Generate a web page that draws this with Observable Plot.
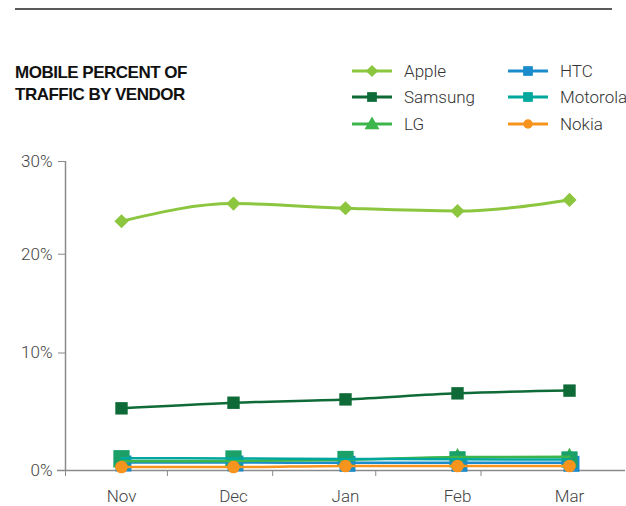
<!DOCTYPE html>
<html>
<head>
<meta charset="utf-8">
<script src="https://cdn.jsdelivr.net/npm/d3@7"></script>
<script src="https://cdn.jsdelivr.net/npm/@observablehq/plot@0.6"></script>
<style>
  html, body { margin: 0; padding: 0; background: #fff; width: 626px; height: 506px; overflow: hidden; }
  #header { position: relative; width: 626px; height: 150px; }
  #rule { position: absolute; left: 15px; top: 8px; width: 597px; height: 2px; background: #5a5a5a; }
  #title { position: absolute; left: 15px; top: 62px; font-family: "Liberation Sans", Arial, sans-serif; font-weight: bold; font-size: 17px; line-height: 22px; color: #111; letter-spacing: -0.5px; }
  .lg { position: absolute; height: 20px; display: flex; align-items: center; font-family: Roboto, "Liberation Sans", sans-serif; font-weight: 300; font-size: 17px; color: #333; white-space: nowrap; }
  .lg svg { margin-right: 12px; }
  #chart { position: absolute; left: 0; top: 150px; }
  #chart svg text { font-family: Roboto, "Liberation Sans", sans-serif; font-weight: 300; }
</style>
</head>
<body>
<div id="header">
  <div id="rule"></div>
  <div id="title">MOBILE PERCENT OF<br>TRAFFIC BY VENDOR</div>
</div>
<div id="chart"></div>
<script>
const months = ["Nov", "Dec", "Jan", "Feb", "Mar"];
const vendors = ["Apple", "Samsung", "LG", "HTC", "Motorola", "Nokia"];
const colors = ["#8cc63f", "#0e6b38", "#3cb54a", "#1a8ccb", "#00a79d", "#f7941d"];
const symbols = ["diamond2", "square", "triangle", "square", "square", "circle"];

const apple    = [23.5, 25.4, 24.9, 24.6, 25.8];
const samsung  = [4.85, 5.35, 5.65, 6.2, 6.45];
const lg       = [0.55, 0.57, 0.65, 0.85, 0.87];
const htc      = [0.47, 0.47, 0.45, 0.45, 0.45];
const motorola = [0.77, 0.75, 0.72, 0.69, 0.68];
const nokia    = [0.18, 0.18, 0.25, 0.25, 0.25];

const yTicks = [0, 10, 20, 30];
const xTicks = [-0.5, 0.41, 1.35, 2.27, 3.21];

const seriesValues = [apple, samsung, lg, htc, motorola, nokia];
const rows = vendors.flatMap((v, s) => seriesValues[s].map((val, i) => ({vendor: v, i, month: months[i], value: val})));
const of = v => rows.filter(d => d.vendor === v);

// Legend (HTML, above the SVG)
const header = document.getElementById("header");
const symType = {diamond2: d3.symbolDiamond2, square: d3.symbolSquare, triangle: d3.symbolTriangle, circle: d3.symbolCircle};
const legendPos = [[352, 61], [352, 87], [352, 114], [508, 61], [508, 87], [508, 114]];
vendors.forEach((v, k) => {
  const div = document.createElement("div");
  div.className = "lg";
  div.style.left = legendPos[k][0] + "px";
  div.style.top = legendPos[k][1] + "px";
  const path = d3.symbol(symType[symbols[k]], symbols[k] === "circle" ? 70 : 95)();
  div.innerHTML = `<svg width="40" height="20" viewBox="0 0 40 20"><line x1="0" x2="40" y1="10" y2="10" stroke="${colors[k]}" stroke-width="3"/><path d="${path}" transform="translate(20,${symbols[k]==='triangle'?11:10})" fill="${colors[k]}"/></svg><span>${v}</span>`;
  header.appendChild(div);
});

const col = v => colors[vendors.indexOf(v)];
const lineOpts = (v, w) => ({x: "i", y: "value", stroke: col(v), strokeWidth: w, curve: "monotone-x"});

const chart = Plot.plot({
  width: 626,
  height: 356,
  marginTop: 11,
  marginBottom: 36,
  marginLeft: 65,
  marginRight: 1,
  style: {fontSize: "17px", color: "#444", overflow: "visible"},
  x: {type: "linear", domain: [-0.5, months.length - 0.5], label: null},
  y: {type: "pow", exponent: 0.88, domain: [0, 30], label: null},
  marks: [
    Plot.axisY({ticks: yTicks, tickFormat: d => d + "%", tickSize: 7, tickPadding: 6, stroke: "#8a8a8a", fill: "#444", fontSize: 17, label: null}),
    Plot.axisX({ticks: xTicks, tickSize: 6, tickFormat: () => "", stroke: "#8a8a8a", label: null}),
    Plot.axisX({ticks: d3.range(months.length), tickSize: 0, tickPadding: 19, tickFormat: i => months[i], fill: "#444", fontSize: 17, label: null}),
    Plot.ruleX([-0.5], {stroke: "#8a8a8a", strokeWidth: 1.5}),
    Plot.ruleY([0], {stroke: "#8a8a8a", strokeWidth: 1.5, insetLeft: -8}),
    // small vendors: overlapping markers under the lines
    Plot.dot(of("HTC"), {x: "i", y: "value", symbol: "square", r: 9, fill: col("HTC"), dx: 2, dy: 1}),
    Plot.dot(of("LG"), {x: "i", y: "value", symbol: "triangle", r: 6.5, fill: col("LG"), dy: 1}),
    Plot.dot(of("Motorola"), {x: "i", y: "value", symbol: "square", r: 9, fill: col("Motorola")}),
    Plot.dot(of("Motorola"), {x: "i", y: "value", symbol: "square", r: 9, fill: col("LG"), fillOpacity: 0.5}),
    Plot.dot(of("Motorola"), {x: "i", y: "value", symbol: "square", r: 9, fill: col("Samsung"), fillOpacity: 0.2}),
    Plot.line(of("HTC"), lineOpts("HTC", 2.5)),
    Plot.line(of("LG"), lineOpts("LG", 2.5)),
    Plot.line(of("Motorola"), lineOpts("Motorola", 2.5)),
    Plot.line(of("Nokia"), lineOpts("Nokia", 2.5)),
    Plot.dot(of("Nokia"), {x: "i", y: "value", symbol: "circle", r: 6.3, fill: col("Nokia")}),
    Plot.line(of("Samsung"), lineOpts("Samsung", 2.5)),
    Plot.dot(of("Samsung"), {x: "i", y: "value", symbol: "square", r: 7, fill: col("Samsung")}),
    Plot.line(of("Apple"), lineOpts("Apple", 3)),
    Plot.dot(of("Apple"), {x: "i", y: "value", symbol: "diamond2", r: 6.4, fill: col("Apple")})
  ]
});
document.getElementById("chart").appendChild(chart);
</script>
</body>
</html>
